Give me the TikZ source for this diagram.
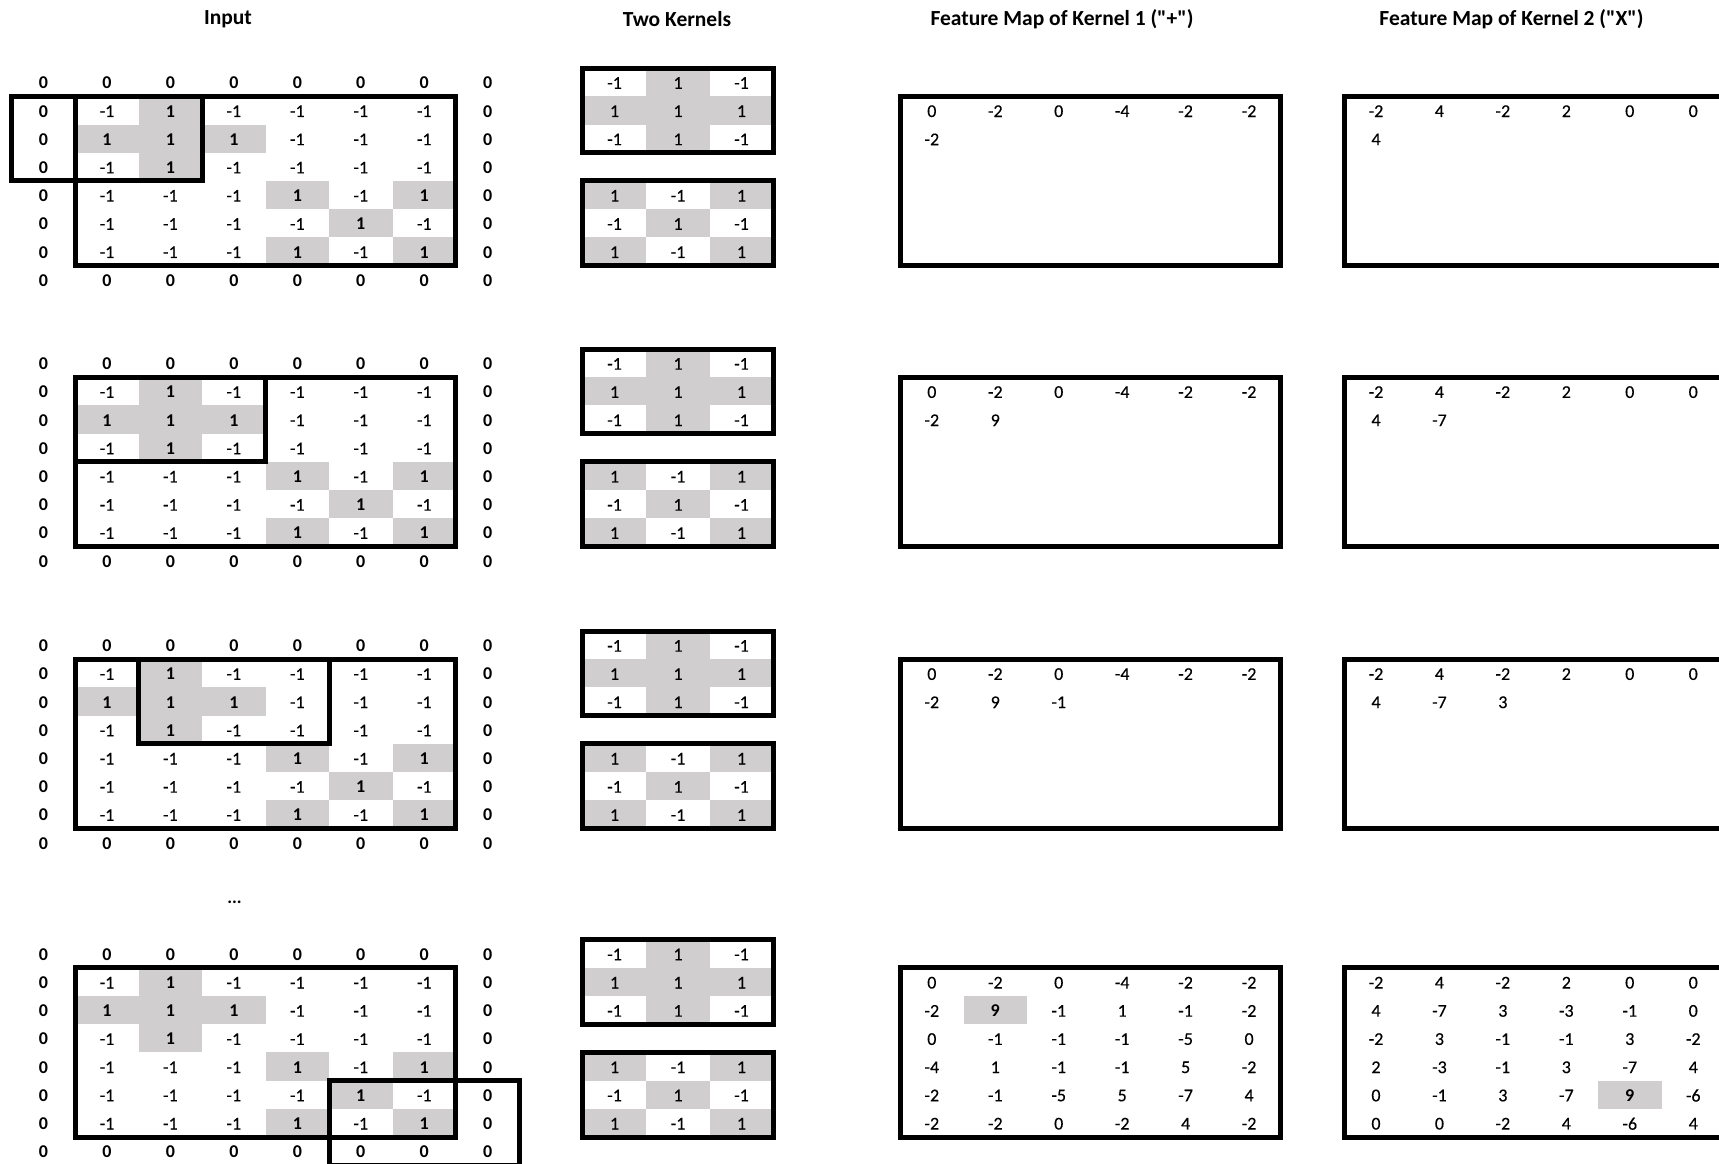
\documentclass[tikz,border=0pt]{standalone}
\usepackage{fontspec}
\setmainfont{Carlito}
\newfontfamily\regnum[FakeBold=0.3]{Carlito}
\newfontfamily\ttlfont{Carlito}
\definecolor{cellgray}{HTML}{D0CECE}
\newcommand\CW{63.45}
\newcommand\RH{28.2}
\newcommand\XO{11.8}
\newcommand\PB{68.1}
\tikzset{
  num/.style={font=\regnum\fontsize{18}{20}\selectfont, inner sep=0pt, anchor=center},
  bnum/.style={num, font=\fontsize{18}{20}\selectfont\bfseries},
  titletext/.style={font=\ttlfont\fontsize{21.5}{24}\selectfont\bfseries, inner sep=0pt, anchor=center},
  thickbox/.style={draw=black, line width=5pt},
}
% node in cell: style, name, row, col, text
\newcommand\putc[5]{\node[#1] (#2) at ({\XO+(#4+0.5)*\CW},{\PB+(#3+0.5)*\RH+0.8}) {#5};}
% gray cell: row, col
\newcommand\gcell[2]{\fill[cellgray] ({\XO+#2*\CW},{\PB+#1*\RH}) rectangle ++(\CW,\RH);}
% thick box: row1, col1, row2, col2 (cell edges)
\newcommand\tbox[4]{\draw[thickbox] ({\XO+#2*\CW},{\PB+#1*\RH}) rectangle ({\XO+#4*\CW},{\PB+#3*\RH});}
% feature map row: prefix, row, start col, list
\newcommand\fmrow[4]{\foreach \v [count=\c from #3] in {#4}{\putc{num}{#1-#2-\c}{#2}{\c}{\v}}}
\newcommand\inputgrid[1]{%
  \foreach \gr/\gc in {1/2,2/1,2/2,2/3,3/2,4/4,4/6,5/5,6/4,6/6}{\gcell{\gr}{\gc}}
  \foreach \row [count=\r from 0] in {{0,0,0,0,0,0,0,0},{0,-1,1,-1,-1,-1,-1,0},{0,1,1,1,-1,-1,-1,0},{0,-1,1,-1,-1,-1,-1,0},{0,-1,-1,-1,1,-1,1,0},{0,-1,-1,-1,-1,1,-1,0},{0,-1,-1,-1,1,-1,1,0},{0,0,0,0,0,0,0,0}}{%
    \foreach \v [count=\c from 0] in \row {%
      \ifnum\v<0 \putc{num}{#1-in-\r-\c}{\r}{\c}{\v}\else \putc{bnum}{#1-in-\r-\c}{\r}{\c}{\v}\fi
    }%
  }%
  \tbox{1}{1}{7}{7}
}
\newcommand\kernels[1]{%
  \foreach \gr/\gc in {0/10,1/9,1/10,1/11,2/10,4/9,4/11,5/10,6/9,6/11}{\gcell{\gr}{\gc}}
  \foreach \row [count=\r from 0] in {{-1,1,-1},{1,1,1},{-1,1,-1}}{%
    \foreach \v [count=\c from 9] in \row {\putc{num}{#1-ka-\r-\c}{\r}{\c}{\v}}}%
  \foreach \row [count=\r from 4] in {{1,-1,1},{-1,1,-1},{1,-1,1}}{%
    \foreach \v [count=\c from 9] in \row {\putc{num}{#1-kb-\r-\c}{\r}{\c}{\v}}}%
  \tbox{0}{9}{3}{12}
  \tbox{4}{9}{7}{12}
}
\begin{document}
\begin{tikzpicture}[x=1pt,y=-1pt]
\useasboundingbox (0,0) rectangle (1719,1164);
\fill[white] (0,0) rectangle (1719,1164);
\clip (0,0) rectangle (1719,1164);
% titles
\node[titletext] (t-input) at (228,19) {Input};
\node[titletext] (t-kernels) at (677,19) {Two Kernels};
\node[titletext] (t-fm1) at (1062,19) {Feature Map of Kernel 1 ("+")};
\node[titletext] (t-fm2) at (1511.5,19) {Feature Map of Kernel 2 ("X")};
% ---------------- panel 1
\renewcommand\PB{68.1}
\inputgrid{p1}
\kernels{p1}
\tbox{1}{0}{4}{3}
\fmrow{p1-fa}{1}{14}{0,-2,0,-4,-2,-2}
\fmrow{p1-fa}{2}{14}{-2}
\fmrow{p1-fb}{1}{21}{-2,4,-2,2,0,0}
\fmrow{p1-fb}{2}{21}{4}
\tbox{1}{14}{7}{20}
\tbox{1}{21}{7}{27}
% ---------------- panel 2
\renewcommand\PB{349.0}
\inputgrid{p2}
\kernels{p2}
\tbox{1}{1}{4}{4}
\fmrow{p2-fa}{1}{14}{0,-2,0,-4,-2,-2}
\fmrow{p2-fa}{2}{14}{-2,9}
\fmrow{p2-fb}{1}{21}{-2,4,-2,2,0,0}
\fmrow{p2-fb}{2}{21}{4,-7}
\tbox{1}{14}{7}{20}
\tbox{1}{21}{7}{27}
% ---------------- panel 3
\renewcommand\PB{631.0}
\inputgrid{p3}
\kernels{p3}
\tbox{1}{2}{4}{5}
\fmrow{p3-fa}{1}{14}{0,-2,0,-4,-2,-2}
\fmrow{p3-fa}{2}{14}{-2,9,-1}
\fmrow{p3-fb}{1}{21}{-2,4,-2,2,0,0}
\fmrow{p3-fb}{2}{21}{4,-7,3}
\tbox{1}{14}{7}{20}
\tbox{1}{21}{7}{27}
% dots
\node[bnum, anchor=base] (dots) at (234.5,903) {...};
% ---------------- panel 4
\renewcommand\PB{939.6}
\gcell{2}{15}
\gcell{5}{25}
\inputgrid{p4}
\kernels{p4}
\tbox{5}{5}{8}{8}
\fmrow{p4-fa}{1}{14}{0,-2,0,-4,-2,-2}
\fmrow{p4-fa}{2}{14}{-2}
\putc{bnum}{p4-fa-2-15}{2}{15}{9}
\fmrow{p4-fa}{2}{16}{-1,1,-1,-2}
\fmrow{p4-fa}{3}{14}{0,-1,-1,-1,-5,0}
\fmrow{p4-fa}{4}{14}{-4,1,-1,-1,5,-2}
\fmrow{p4-fa}{5}{14}{-2,-1,-5,5,-7,4}
\fmrow{p4-fa}{6}{14}{-2,-2,0,-2,4,-2}
\fmrow{p4-fb}{1}{21}{-2,4,-2,2,0,0}
\fmrow{p4-fb}{2}{21}{4,-7,3,-3,-1,0}
\fmrow{p4-fb}{3}{21}{-2,3,-1,-1,3,-2}
\fmrow{p4-fb}{4}{21}{2,-3,-1,3,-7,4}
\fmrow{p4-fb}{5}{21}{0,-1,3,-7}
\putc{bnum}{p4-fb-5-25}{5}{25}{9}
\fmrow{p4-fb}{5}{26}{-6}
\fmrow{p4-fb}{6}{21}{0,0,-2,4,-6,4}
\tbox{1}{14}{7}{20}
\tbox{1}{21}{7}{27}
\end{tikzpicture}
\end{document}
